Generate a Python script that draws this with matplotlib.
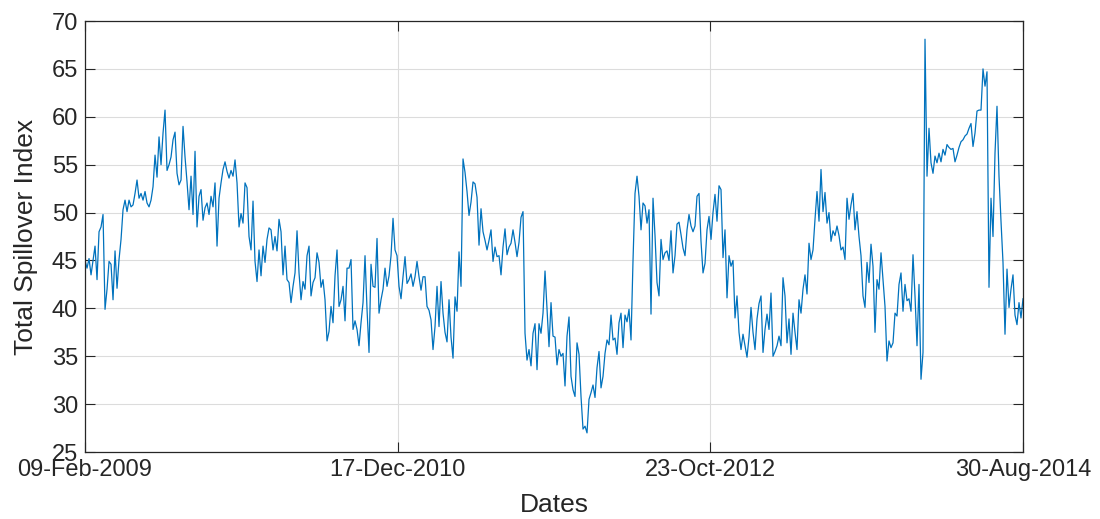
"""
Total spillover index over time, drawn in a MATLAB-like style.
"""

import matplotlib
matplotlib.use("Agg")
import matplotlib.pyplot as plt
import matplotlib.dates as mdates
import pandas as pd

LINE_COLOR = "#0072BD"
AXIS_COLOR = "#262626"
GRID_COLOR = "#dcdcdc"

START_DATE = "2009-02-09"
END_DATE = "2014-08-30"
TICK_DATES = ["2009-02-09", "2010-12-17", "2012-10-23", "2014-08-30"]

# Index values, evenly spaced in time from start to end.
spillover_2009_2010 = [
    45.0, 44.2, 45.2, 43.5, 45.0, 46.5, 43.0, 48.0, 48.5, 49.8,
    39.9, 42.0, 44.9, 44.6, 40.9, 46.0, 42.1, 45.1, 47.2, 50.3,
    51.3, 50.1, 51.3, 50.6, 50.8, 52.0, 53.4, 51.5, 52.0, 51.3,
    52.2, 51.0, 50.6, 51.3, 52.7, 56.0, 53.7, 57.9, 55.0, 58.3,
    60.7, 54.4, 55.0, 55.8, 57.6, 58.4, 54.1, 52.9, 53.4, 59.0,
    55.8, 53.2, 50.3, 53.8, 49.8, 56.4, 48.5, 51.7, 52.4, 49.2,
    50.5, 51.0, 49.8, 51.7, 50.6, 53.1, 46.5, 51.5, 53.1, 54.5,
    55.3, 54.3, 53.6, 54.4, 53.8, 55.5, 53.1, 48.5, 49.9, 48.9,
    53.1, 52.6, 47.5, 46.1, 51.2, 44.9, 42.8, 46.1, 43.4, 46.5,
    44.8, 47.2, 48.4, 48.2, 46.1, 47.5, 46.0, 49.3, 48.0, 43.5,
    46.5, 43.0, 42.7, 40.6, 42.3, 43.7, 48.1, 43.7, 40.9, 42.8,
    42.0, 45.5, 46.5, 41.3, 42.7, 43.2, 45.8, 44.8, 42.2, 43.0,
    40.9, 36.6, 37.6, 40.2, 38.5, 43.4, 46.1, 40.2, 40.9, 42.3,
    38.7, 44.2, 44.2, 45.1, 37.8, 38.7, 37.8, 36.1, 38.5, 40.6,
    45.5, 39.9, 35.4, 44.6, 42.3, 42.2, 47.3, 39.5, 40.9, 42.0,
    44.2, 42.3, 43.4, 45.5, 49.4, 46.1, 45.5, 42.3, 41.0, 43.3,
]
spillover_2011_2012 = [
    45.4, 42.6, 43.0, 43.6, 42.3, 43.3, 44.9, 43.3, 41.9, 43.3,
    43.3, 40.2, 39.8, 38.8, 35.7, 38.1, 42.3, 38.1, 42.8, 39.5,
    37.5, 36.5, 40.9, 37.0, 34.8, 41.2, 39.7, 45.9, 42.3, 55.6,
    54.2, 52.2, 49.7, 51.1, 53.2, 53.0, 51.6, 46.6, 50.4, 48.0,
    47.1, 46.1, 47.1, 48.2, 44.9, 46.4, 45.4, 45.5, 43.5, 46.4,
    48.3, 45.6, 46.4, 46.8, 48.2, 46.9, 45.4, 46.9, 49.5, 50.1,
    37.4, 34.6, 35.7, 34.0, 37.4, 38.4, 33.6, 38.4, 37.4, 39.5,
    43.9, 39.9, 36.0, 40.6, 37.1, 37.0, 34.1, 35.7, 35.0, 35.3,
    31.9, 37.1, 39.1, 32.9, 31.5, 30.8, 36.4, 35.2, 30.8, 27.4,
    27.7, 27.0, 30.5, 31.2, 32.0, 30.7, 33.8, 35.5, 31.7, 32.9,
    35.3, 36.7, 36.2, 39.3, 36.7, 36.9, 35.2, 38.5, 39.5, 35.9,
    39.3, 38.6, 39.9, 36.7, 45.0, 52.0, 53.8, 51.7, 48.2, 51.0,
    50.7, 48.9, 50.3, 39.4, 51.5, 47.6, 42.7, 41.3, 47.2, 45.1,
    45.8, 46.0, 45.0, 48.1, 43.7, 45.5, 48.8, 49.0, 47.7, 46.3,
    45.5, 48.2, 49.8, 48.6, 48.0, 48.6, 51.7, 52.0, 47.0, 43.7,
    44.7, 48.2, 49.6, 47.2, 50.0, 51.9, 49.1, 52.8, 52.4, 45.3,
]
spillover_2013_2014 = [
    48.2, 41.1, 45.5, 44.4, 45.0, 39.0, 41.3, 37.5, 35.7, 37.3,
    36.1, 34.9, 37.0, 40.1, 37.5, 35.7, 38.9, 40.5, 41.3, 35.4,
    37.8, 39.4, 37.8, 41.6, 35.0, 35.5, 36.1, 37.1, 36.1, 43.2,
    41.3, 36.4, 38.9, 35.2, 39.5, 37.5, 35.7, 40.9, 39.5, 42.0,
    43.5, 41.5, 46.8, 45.1, 46.1, 49.3, 52.2, 49.1, 54.5, 50.1,
    52.1, 48.9, 50.0, 47.0, 48.1, 47.6, 48.6, 47.6, 46.1, 46.4,
    45.1, 51.5, 49.3, 50.8, 52.0, 48.2, 50.1, 47.5, 45.5, 41.3,
    40.1, 44.8, 42.7, 46.7, 44.4, 37.5, 43.0, 42.0, 45.8, 43.0,
    40.2, 34.5, 36.6, 35.9, 36.4, 39.5, 39.2, 42.5, 43.7, 39.7,
    42.5, 40.8, 41.0, 39.7, 45.6, 41.3, 36.1, 42.5, 32.6, 35.4,
    68.1, 53.8, 58.8, 55.2, 54.1, 55.9, 55.2, 56.2, 55.3, 56.6,
    56.0, 57.1, 56.8, 56.6, 56.7, 55.3, 56.0, 56.8, 57.4, 57.6,
    58.0, 58.2, 58.8, 59.3, 56.9, 58.3, 60.6, 60.7, 60.7, 65.0,
    63.2, 64.7, 42.2, 51.5, 47.5, 56.2, 61.1, 53.8, 49.1, 44.8,
    37.3, 44.1, 40.1, 42.0, 43.5, 39.3, 38.3, 40.6, 39.0, 41.0,
]

Y_TICKS = [25, 30, 35, 40, 45, 50, 55, 60, 65, 70]


def plot_spillover() -> None:
    values = spillover_2009_2010 + spillover_2011_2012 + spillover_2013_2014
    dates = pd.date_range(START_DATE, END_DATE, periods=len(values))

    plt.rcParams["font.family"] = ["Liberation Sans", "DejaVu Sans"]
    figure = plt.figure(figsize=(11, 5.19), dpi=100)
    axis = figure.add_axes([0.0773, 0.129, 0.8527, 0.8305])

    axis.plot(dates, values, color=LINE_COLOR, linewidth=0.9)

    axis.set_xlim(pd.Timestamp(START_DATE), pd.Timestamp(END_DATE))
    axis.set_ylim(25, 70)
    axis.set_yticks(Y_TICKS)
    axis.set_xticks([pd.Timestamp(d) for d in TICK_DATES])
    axis.xaxis.set_major_formatter(mdates.DateFormatter("%d-%b-%Y"))

    axis.grid(True, color=GRID_COLOR, linewidth=0.8)
    axis.set_axisbelow(True)
    axis.tick_params(direction="in", length=7, width=0.8, colors=AXIS_COLOR,
                     labelsize=17, top=True, right=True, pad=5)
    for spine in axis.spines.values():
        spine.set_edgecolor(AXIS_COLOR)
        spine.set_linewidth(0.9)

    axis.set_xlabel("Dates", fontsize=19, color=AXIS_COLOR, labelpad=9)
    axis.set_ylabel("Total Spillover Index", fontsize=19, color=AXIS_COLOR, labelpad=10)

    figure.savefig("out.png", dpi=100)
    plt.close(figure)


if __name__ == "__main__":
    plot_spillover()
